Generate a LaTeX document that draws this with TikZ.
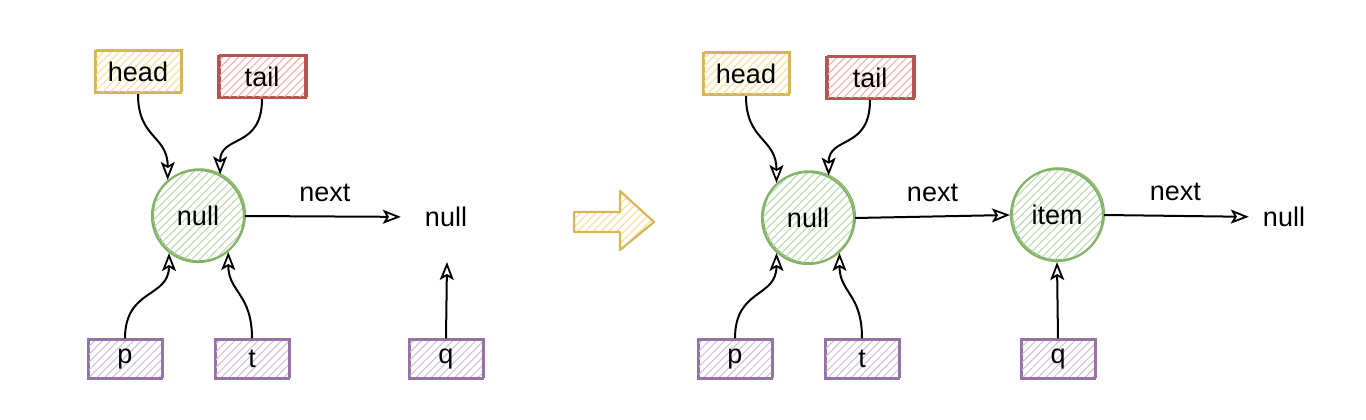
\documentclass[tikz,border=0pt]{standalone}
\usepackage{fontspec}
\setmainfont{Liberation Sans}
\usetikzlibrary{arrows.meta,patterns.meta}
\definecolor{yS}{HTML}{D6B656}\definecolor{yF}{HTML}{F9DF96}
\definecolor{rS}{HTML}{B85450}\definecolor{rF}{HTML}{F2B0AC}
\definecolor{gS}{HTML}{82B366}\definecolor{gF}{HTML}{BCDAB0}
\definecolor{pS}{HTML}{9673A6}\definecolor{pF}{HTML}{D2BFDD}
\tikzset{
  hatch/.style={pattern={Lines[angle=45,distance=5.5pt,line width=1.1pt]},pattern color=#1},
  sketch/.style={preaction={draw=#1,line width=1.1pt,transform canvas={xshift=1.5pt,yshift=1.2pt}}},
  lbl/.style={font=\fontsize{27}{30}\selectfont},
  varbox/.style 2 args={draw=#1,hatch=#2,sketch=#1,line width=2.2pt,inner sep=0pt,lbl},
  yb/.style={varbox={yS}{yF},minimum width=86pt,minimum height=42pt},
  rb/.style={varbox={rS}{rF},minimum width=87pt,minimum height=42pt},
  pb/.style={varbox={pS}{pF},minimum width=74pt,minimum height=39pt},
  cnode/.style={circle,draw=gS,hatch=gF,sketch=gS,line width=2.2pt,minimum size=92pt,inner sep=0pt,lbl},
  plain/.style={lbl,inner sep=0pt},
  conn/.style={draw,line width=2pt,-{Stealth[open,length=18pt,width=14pt,inset=4pt,line width=1.8pt]}},
}
\begin{document}
\begin{tikzpicture}[x=1pt,y=-1pt]
\useasboundingbox (0,0) rectangle (1366,420);
% ---------- left ----------
\node[yb] (h1) at (138,72) {head};
\node[rb] (tl1) at (262,77) {tail};
\node[cnode] (c1) at (198,216) {null};
\node[plain] (n1) at (446,217) {null};
\node[pb] (p1) at (125,359) {p};
\node[pb] (t1) at (252,359) {t};
\node[pb] (q1) at (446,359) {q};
\coordinate (qe) at (447,262);
\draw[conn] (h1.south) .. controls +(0,45) and +(0,-45) .. (c1.130);
\draw[conn] (tl1.south) .. controls +(0,50) and +(0,-40) .. (c1.62);
\draw[conn] (p1.north) .. controls +(0,-50) and +(0,45) .. (c1.232);
\draw[conn] (t1.north) .. controls +(0,-45) and +(0,40) .. (c1.310);
\draw[conn,shorten >=24pt] (c1.east) -- node[plain,above=14pt,xshift=-10pt]{next} (n1.west);
\draw[conn] (q1.north) -- (qe);
% ---------- fat arrow ----------
\draw[draw=yS,hatch=yF,line width=2.2pt,line join=round]
  (574,212) -- (620,212) -- (620,191) -- (654,222) -- (620,250) -- (620,232) -- (574,232) -- cycle;
% ---------- right ----------
\node[yb] (h2) at (746,74) {head};
\node[rb] (tl2) at (870,78) {tail};
\node[cnode] (c2) at (808,218) {null};
\node[cnode] (c3) at (1057,215) {item};
\node[plain] (n2) at (1284,217) {null};
\node[pb] (p2) at (735,359) {p};
\node[pb] (t2) at (862,359) {t};
\node[pb] (q2) at (1058,359) {q};
\draw[conn] (h2.south) .. controls +(0,45) and +(0,-45) .. (c2.132);
\draw[conn] (tl2.south) .. controls +(0,50) and +(0,-40) .. (c2.64);
\draw[conn] (p2.north) .. controls +(0,-50) and +(0,45) .. (c2.228);
\draw[conn] (t2.north) .. controls +(0,-45) and +(0,40) .. (c2.312);
\draw[conn] (c2.east) -- node[plain,above=14pt]{next} (c3.west);
\draw[conn,shorten >=14pt] (c3.east) -- node[plain,above=14pt,xshift=-8pt]{next} (n2.west);
\draw[conn] (q2.north) -- (c3.south);
\end{tikzpicture}
\end{document}
